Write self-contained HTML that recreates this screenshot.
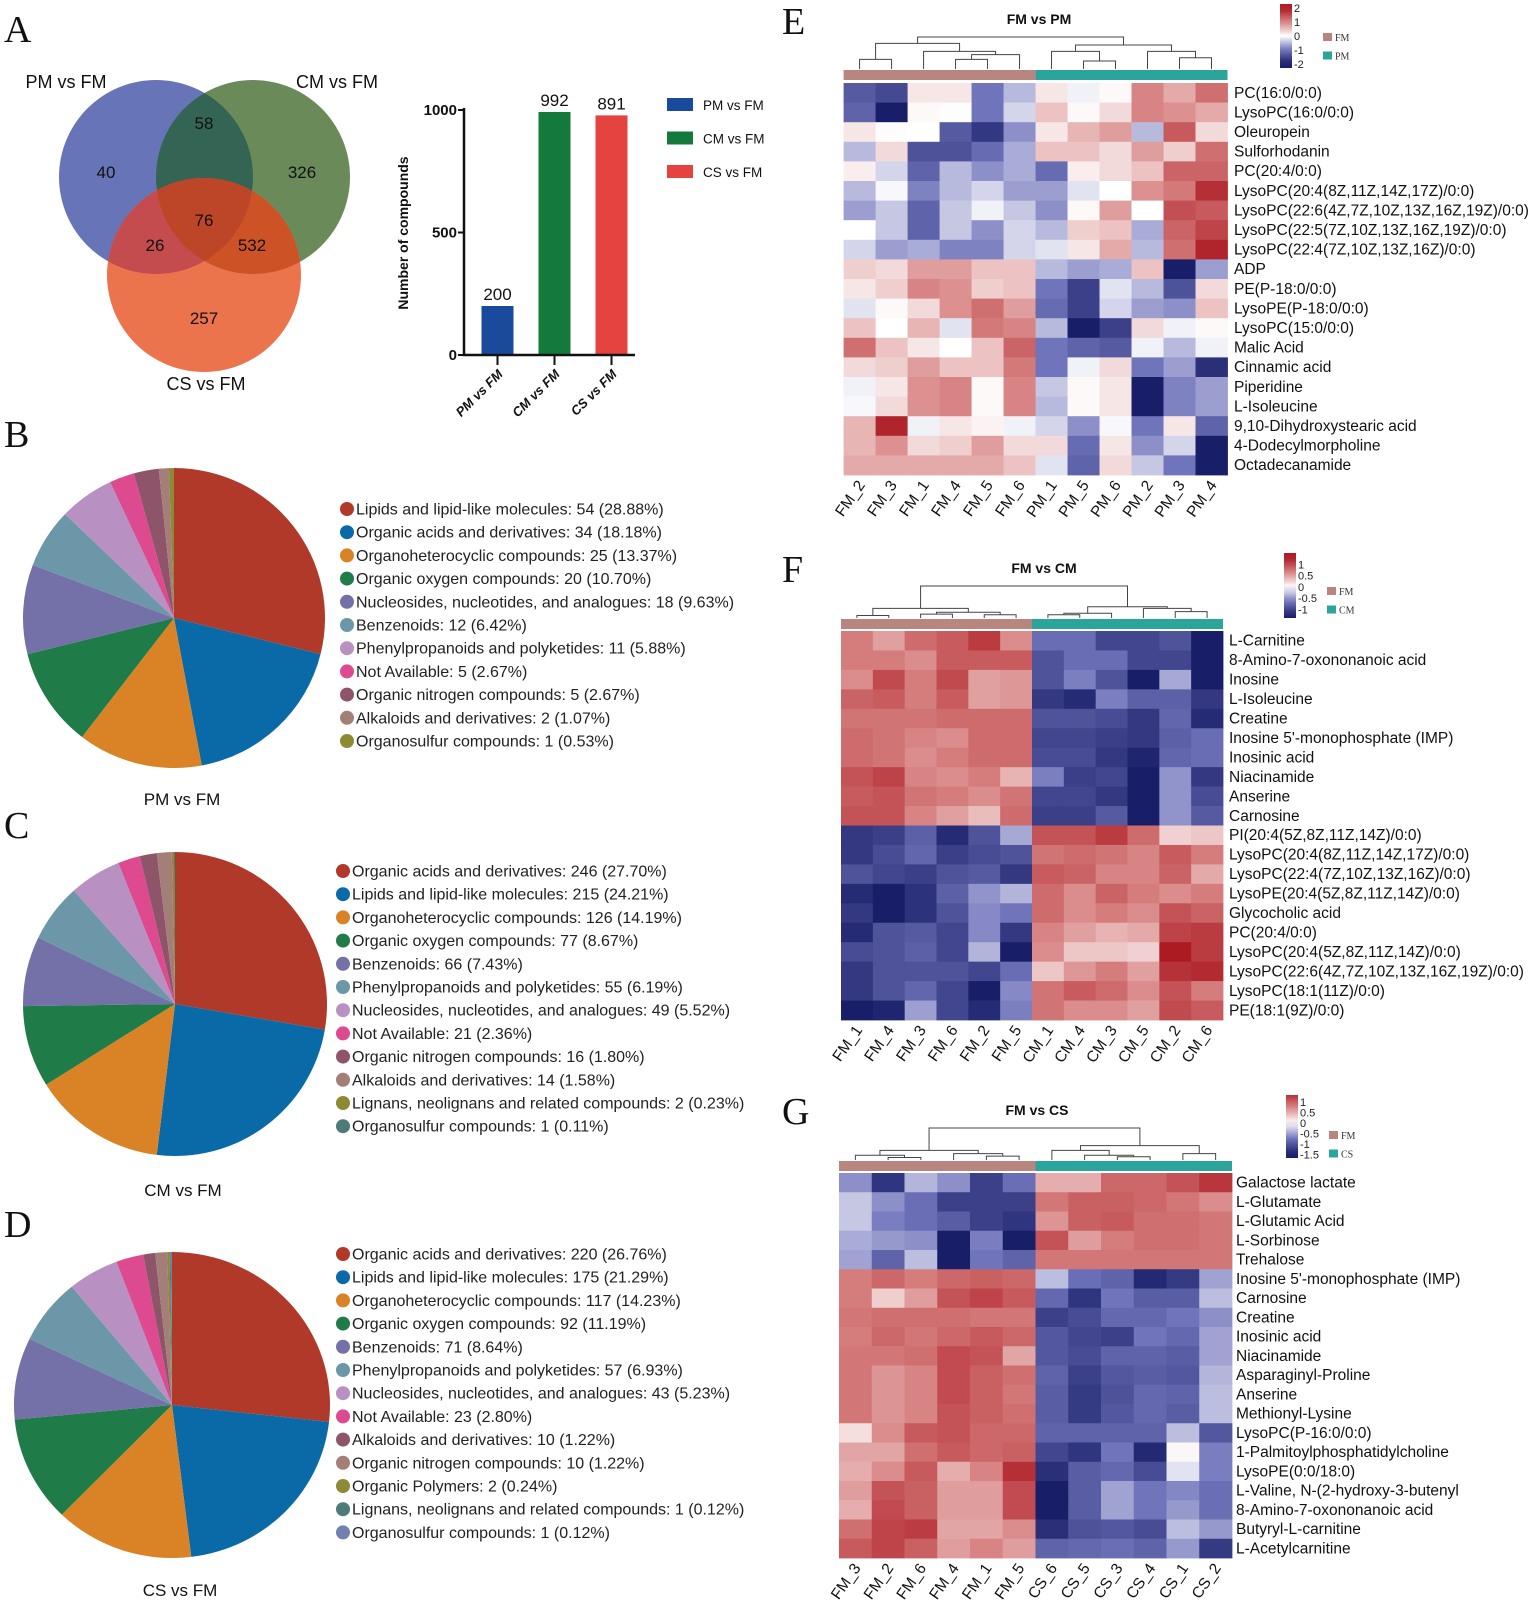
<!DOCTYPE html>
<html><head><meta charset="utf-8"><title>Metabolite comparison figure</title>
<style>
html,body{margin:0;padding:0;background:#fff;}
svg{display:block;font-family:"Liberation Sans",Arial,sans-serif;}
.serif{font-family:"Liberation Serif","Times New Roman",serif;}
</style></head>
<body>
<svg id="fig" xmlns="http://www.w3.org/2000/svg" width="1535" height="1613" viewBox="0 0 1535 1613">
<defs>
<clipPath id="cPM"><circle cx="156" cy="177" r="97"/></clipPath>
<clipPath id="cCM"><circle cx="253" cy="177" r="97"/></clipPath>
</defs>
<g class="serif" font-size="38" fill="#111">
<text x="4" y="42">A</text>
<text x="4" y="447">B</text>
<text x="4" y="838">C</text>
<text x="4" y="1237">D</text>
<text x="782" y="34">E</text>
<text x="782" y="582">F</text>
<text x="782" y="1124">G</text>
</g>
<g id="venn">
<circle cx="156" cy="177" r="97" fill="#6874b8"/>
<circle cx="253" cy="177" r="97" fill="#6b8a5a"/>
<circle cx="204" cy="275" r="97" fill="#ec744d"/>
<circle cx="253" cy="177" r="97" fill="#346453" clip-path="url(#cPM)"/>
<circle cx="204" cy="275" r="97" fill="#c44c4e" clip-path="url(#cPM)"/>
<circle cx="204" cy="275" r="97" fill="#cd5327" clip-path="url(#cCM)"/>
<g clip-path="url(#cPM)"><circle cx="204" cy="275" r="97" fill="#bd4528" clip-path="url(#cCM)"/></g>
<g font-size="18" fill="#111" text-anchor="middle">
<text x="66" y="88">PM vs FM</text>
<text x="337" y="88">CM vs FM</text>
<text x="206" y="390">CS vs FM</text>
</g>
<g font-size="17" fill="#111" text-anchor="middle">
<text x="204" y="129">58</text>
<text x="106" y="178">40</text>
<text x="302" y="178">326</text>
<text x="204" y="226">76</text>
<text x="155" y="251">26</text>
<text x="252" y="251">532</text>
<text x="204" y="324">257</text>
</g>
</g>
<g id="bar"></g>
<g id="pies"></g>
<g id="heats"></g>
</svg>
<script>
// ---------- Bar chart data ----------
const barCategories = ["PM vs FM", "CM vs FM", "CS vs FM"];
const barValues = [200, 992, 978];
const barValueLabels = ["200", "992", "891"];
const barColors = ["#1a4a9c", "#147a3c", "#e5433f"];
const barTicks = [0, 500, 1000];

// ---------- Pie data ----------
const pieBLabels = ["Lipids and lipid-like molecules","Organic acids and derivatives","Organoheterocyclic compounds","Organic oxygen compounds","Nucleosides, nucleotides, and analogues","Benzenoids","Phenylpropanoids and polyketides","Not Available","Organic nitrogen compounds","Alkaloids and derivatives","Organosulfur compounds"];
const pieBCounts = [54,34,25,20,18,12,11,5,5,2,1];
const pieCLabels = ["Organic acids and derivatives","Lipids and lipid-like molecules","Organoheterocyclic compounds","Organic oxygen compounds","Benzenoids","Phenylpropanoids and polyketides","Nucleosides, nucleotides, and analogues","Not Available","Organic nitrogen compounds","Alkaloids and derivatives","Lignans, neolignans and related compounds","Organosulfur compounds"];
const pieCCounts = [246,215,126,77,66,55,49,21,16,14,2,1];
const pieDLabels = ["Organic acids and derivatives","Lipids and lipid-like molecules","Organoheterocyclic compounds","Organic oxygen compounds","Benzenoids","Phenylpropanoids and polyketides","Nucleosides, nucleotides, and analogues","Not Available","Alkaloids and derivatives","Organic nitrogen compounds","Organic Polymers","Lignans, neolignans and related compounds","Organosulfur compounds"];
const pieDCounts = [220,175,117,92,71,57,43,23,10,10,2,1,1];
const pieColors = ["#b0392a","#0a6aa8","#d98326","#1f7b48","#7470a8","#6b97a8","#b990c2","#de4a90","#8e5469","#a37f78","#8c8a35","#4e7a78","#7080b0"];

// ---------- Heatmap E data ----------
const heatECols = ["FM_2","FM_3","FM_1","FM_4","FM_5","FM_6","PM_1","PM_5","PM_6","PM_2","PM_3","PM_4"];
const heatERows = ["PC(16:0/0:0)","LysoPC(16:0/0:0)","Oleuropein","Sulforhodanin","PC(20:4/0:0)","LysoPC(20:4(8Z,11Z,14Z,17Z)/0:0)","LysoPC(22:6(4Z,7Z,10Z,13Z,16Z,19Z)/0:0)","LysoPC(22:5(7Z,10Z,13Z,16Z,19Z)/0:0)","LysoPC(22:4(7Z,10Z,13Z,16Z)/0:0)","ADP","PE(P-18:0/0:0)","LysoPE(P-18:0/0:0)","LysoPC(15:0/0:0)","Malic Acid","Cinnamic acid","Piperidine","L-Isoleucine","9,10-Dihydroxystearic acid","4-Dodecylmorpholine","Octadecanamide"];
const heatEValues = [
[-1.3,-1.5,0.2,0.2,-1.0,-0.5,0.2,-0.1,0.05,1.0,0.7,1.2],
[-1.2,-2.1,0.05,0.02,-1.0,-0.3,0.5,0.05,0.3,1.0,0.9,0.7],
[0.2,0.02,0.0,-1.3,-1.7,-0.8,0.2,0.6,0.8,-0.5,1.4,0.3],
[-0.5,0.3,-1.4,-1.4,-1.1,-0.6,0.5,0.5,0.3,0.8,0.4,1.2],
[0.15,-0.3,-1.2,-0.5,-0.8,-0.6,-1.1,0.15,0.3,0.5,1.3,1.3],
[-0.5,-0.05,-0.9,-0.5,-0.3,-0.7,-0.7,-0.2,0.0,0.9,1.1,1.8],
[-0.7,-0.4,-1.2,-0.4,-0.1,-0.4,-0.8,0.05,0.8,0.0,1.5,1.4],
[0.0,-0.4,-1.2,-0.4,-0.8,-0.3,-0.5,0.4,0.5,-0.6,1.3,1.6],
[-0.3,-0.7,-0.6,-0.9,-0.9,-0.3,-0.2,0.2,0.7,-0.5,1.2,1.9],
[0.4,0.3,0.8,0.8,0.5,0.5,-0.5,-0.7,-0.6,0.5,-2.2,-0.7],
[0.2,0.4,1.0,0.9,0.4,0.5,-1.0,-1.6,-0.2,-0.5,-1.4,0.3],
[-0.2,0.05,0.3,0.9,1.2,0.8,-1.1,-1.6,-0.3,-0.7,-0.8,0.5],
[0.5,0.0,0.6,-0.2,1.1,1.0,-0.5,-2.0,-1.6,0.3,-0.1,0.05],
[1.2,0.5,0.2,0.0,0.5,1.3,-1.0,-1.2,-1.3,-0.1,-0.5,-0.1],
[0.3,0.4,0.8,0.5,0.5,1.1,-1.0,-0.1,0.3,-1.0,-0.7,-1.8],
[-0.1,0.2,0.9,1.0,0.05,1.0,-0.4,0.05,0.2,-2.3,-0.9,-0.7],
[-0.05,0.3,0.9,1.0,0.05,1.0,-0.5,0.05,0.2,-2.3,-0.9,-0.7],
[0.6,1.9,-0.1,0.2,0.1,-0.1,-0.3,-0.8,-0.05,-1.0,0.2,-1.2],
[0.6,0.9,0.3,0.4,0.8,0.3,0.3,-1.1,0.2,-0.8,-0.3,-2.3],
[0.7,0.7,0.7,0.7,0.7,0.5,-0.2,-1.2,0.3,-0.4,-1.0,-2.2]];
const heatETicks = [2,1,0,-1,-2];

// ---------- Heatmap F data ----------
const heatFCols = ["FM_1","FM_4","FM_3","FM_6","FM_2","FM_5","CM_1","CM_4","CM_3","CM_5","CM_2","CM_6"];
const heatFRows = ["L-Carnitine","8-Amino-7-oxononanoic acid","Inosine","L-Isoleucine","Creatine","Inosine 5'-monophosphate (IMP)","Inosinic acid","Niacinamide","Anserine","Carnosine","PI(20:4(5Z,8Z,11Z,14Z)/0:0)","LysoPC(20:4(8Z,11Z,14Z,17Z)/0:0)","LysoPC(22:4(7Z,10Z,13Z,16Z)/0:0)","LysoPE(20:4(5Z,8Z,11Z,14Z)/0:0)","Glycocholic acid","PC(20:4/0:0)","LysoPC(20:4(5Z,8Z,11Z,14Z)/0:0)","LysoPC(22:6(4Z,7Z,10Z,13Z,16Z,19Z)/0:0)","LysoPC(18:1(11Z)/0:0)","PE(18:1(9Z)/0:0)"];
const heatFValues = [
[.7,.5,.8,.9,1.1,.6,-.7,-.7,-1.0,-1.0,-.9,-1.3],
[.7,.7,.6,.9,.9,.9,-.9,-.7,-.7,-1.0,-1.0,-1.4],
[.6,1.0,.7,1.0,.5,.55,-.9,-.6,-.9,-1.4,-.4,-1.3],
[.85,.9,.7,.9,.5,.55,-1.1,-1.2,-.6,-.8,-.8,-1.1],
[.75,.75,.75,.8,.8,.8,-.9,-.9,-.95,-1.1,-.75,-1.2],
[.8,.75,.65,.6,.8,.8,-1.0,-1.0,-1.05,-1.1,-.8,-.7],
[.8,.75,.6,.7,.8,.8,-.95,-.95,-1.1,-1.25,-.75,-.7],
[.95,1.05,.65,.6,.7,.4,-.6,-1.05,-1.0,-1.35,-.5,-1.1],
[.9,.95,.75,.7,.6,.75,-1.0,-1.0,-1.1,-1.3,-.5,-.95],
[.95,.95,.65,.5,.35,.8,-1.05,-1.05,-.85,-1.3,-.5,-.85],
[-1.1,-1.05,-.8,-1.2,-.9,-.4,.95,.95,1.1,.8,.25,.3],
[-1.1,-.95,-.75,-1.05,-.95,-.9,.75,.8,.75,.65,.9,.7],
[-.9,-1.0,-1.05,-.9,-.85,-1.1,.9,.85,.65,.65,.85,.45],
[-1.2,-1.5,-1.15,-.8,-.5,-.35,.8,.6,.85,.7,.6,.7],
[-1.1,-1.35,-1.15,-.9,-.55,-.65,.8,.6,.7,.6,.95,.85],
[-1.2,-.9,-.85,-1.0,-.55,-1.1,.65,.5,.4,.45,1.05,1.1],
[-.95,-.9,-.8,-1.0,-.35,-1.35,.6,.3,.3,.25,1.3,1.1],
[-1.1,-.9,-.9,-.9,-1.0,-.7,.3,.55,.7,.5,1.15,1.2],
[-1.1,-.9,-.75,-1.0,-1.4,-.55,.75,.9,.8,.6,.95,.7],
[-1.3,-1.25,-.45,-1.0,-1.2,-.6,.75,.6,.6,.5,1.0,.9]];
const heatFTicks = [1,0.5,0,-0.5,-1];

// ---------- Heatmap G data ----------
const heatGCols = ["FM_3","FM_2","FM_6","FM_4","FM_1","FM_5","CS_6","CS_5","CS_3","CS_4","CS_1","CS_2"];
const heatGRows = ["Galactose lactate","L-Glutamate","L-Glutamic Acid","L-Sorbinose","Trehalose","Inosine 5'-monophosphate (IMP)","Carnosine","Creatine","Inosinic acid","Niacinamide","Asparaginyl-Proline","Anserine","Methionyl-Lysine","LysoPC(P-16:0/0:0)","1-Palmitoylphosphatidylcholine","LysoPE(0:0/18:0)","L-Valine, N-(2-hydroxy-3-butenyl","8-Amino-7-oxononanoic acid","Butyryl-L-carnitine","L-Acetylcarnitine"];
const heatGValues = [
[-.6,-1.3,-.4,-.6,-1.2,-.8,.5,.5,.95,.95,1.1,1.3],
[-.3,-.6,-.8,-1.2,-1.2,-1.2,.85,1.0,1.0,.95,.85,.7],
[-.3,-.7,-.8,-.95,-1.2,-1.3,.65,1.0,1.05,.9,.9,.85],
[-.45,-.55,-.6,-1.5,-.7,-1.6,1.1,.6,.8,.9,.9,.85],
[-.5,-.9,-.35,-1.9,-.75,-.9,.85,.85,.85,.85,.85,.85],
[.8,.95,.8,.95,1.0,.95,-.35,-.8,-.9,-1.4,-1.25,-.5],
[.8,.3,.6,1.1,1.2,1.05,-.85,-1.3,-.75,-.95,-.95,-.35],
[.85,.9,.9,.9,.85,.85,-1.2,-1.1,-.85,-.85,-.75,-.6],
[.8,.95,.85,.95,1.05,.95,-1.0,-1.15,-1.2,-.75,-.85,-.5],
[.85,.85,.9,1.15,1.1,.55,-1.0,-1.1,-.9,-.9,-.95,-.5],
[.85,.65,.75,1.15,1.0,.9,-.9,-1.2,-1.0,-.95,-1.0,-.4],
[.85,.65,.75,1.15,1.0,.85,-.95,-1.25,-1.05,-.85,-.9,-.35],
[.85,.65,.75,1.1,1.0,.9,-.95,-1.25,-1.0,-.85,-.95,-.35],
[.2,.7,1.05,1.1,.95,.95,-.9,-.9,-.9,-.9,-.35,-1.0],
[.55,.55,.9,1.05,.95,1.0,-1.15,-1.3,-.75,-1.4,.05,-.7],
[.5,.7,1.05,.5,.75,1.35,-1.35,-.95,-.85,-1.1,-.15,-.7],
[.6,1.1,1.0,.6,.6,1.15,-1.6,-.95,-.5,-.75,-.65,-.8],
[.5,1.15,1.0,.6,.6,1.15,-1.8,-.95,-.5,-.75,-.55,-.8],
[.9,1.2,1.25,.55,.55,.7,-1.35,-1.05,-1.0,-1.1,-.35,-.55],
[1.05,1.2,1.0,.6,.75,.6,-.9,-.85,-.8,-.9,-.55,-1.25]];
const heatGTicks = [1,0.5,0,-0.5,-1,-1.5];

// dendrogram structures: [left, right, height(0..1)] or leaf index
const treeE = [[[0,1,0.3],[2,[[3,4,0.3],5,0.45],0.55],0.8],[[6,[7,8,0.25],0.55],[9,[10,11,0.35],0.55],0.75],1.0];
const treeF = [[[0,1,0.08],[[2,3,0.12],[4,5,0.1],0.18],0.3],[[[6,7,0.1],8,0.15],[9,[10,11,0.2],0.3],0.35],1.0];
const treeG = [[[0,[1,2,0.08],0.15],[3,[4,5,0.12],0.2],0.3],[[6,[7,[8,9,0.1],0.15],0.3],[10,11,0.2],0.45],1.0];

const NS = "http://www.w3.org/2000/svg";
function mk(tag, parent){ const e = document.createElementNS(NS, tag); parent.appendChild(e); return e; }
function at(e, o){ for (const k in o) e.setAttribute(k, o[k]); return e; }

// ---------- Bar chart ----------
(function(){
  const g = document.getElementById('bar');
  const x0 = 464, xEnd = 635, y0 = 355, yTop = 110, vMax = 1000;
  const yS = v => y0 - (v / vMax) * (y0 - yTop);
  const band = (xEnd - x0) / barCategories.length;
  const bw = 32;
  const xC = i => x0 + band * (i + 0.5) + 5;
  barCategories.forEach((c, i) => {
    const r = mk('rect', g);
    at(r, {x: xC(i) - bw/2, y: yS(barValues[i]), width: bw, height: y0 - yS(barValues[i]), fill: barColors[i]});
    
    
    const t = mk('text', g);
    at(t, {x: xC(i), y: yS(barValues[i]) - 6, 'text-anchor': 'middle', 'font-size': 17, fill: '#111'});
    t.textContent = barValueLabels[i];
    
    
    const tk = mk('line', g);
    at(tk, {x1: xC(i), x2: xC(i), y1: y0, y2: y0 + 10, stroke: '#111', 'stroke-width': 2});
    
    
    const xl = mk('text', g);
    at(xl, {x: xC(i) + 6, y: y0 + 20, 'text-anchor': 'end', 'font-size': 13, 'font-weight': 'bold', 'font-style': 'italic', fill: '#111', transform: `rotate(-45 ${xC(i)+6} ${y0+20})`});
    xl.textContent = c;
    
    
  });
  const ax = mk('path', g);
  at(ax, {d: `M${x0} ${yTop-2} V${y0} H${xEnd}`, fill: 'none', stroke: '#111', 'stroke-width': 2.5});
  
  
  barTicks.forEach(v => {
    const l = mk('line', g);
    at(l, {x1: x0 - 6, x2: x0, y1: yS(v), y2: yS(v), stroke: '#111', 'stroke-width': 2});
    
    
    const t = mk('text', g);
    at(t, {x: x0 - 7, y: yS(v) + 5, 'text-anchor': 'end', 'font-size': 15, 'font-weight': 'bold', fill: '#111'});
    t.textContent = v;
    
    
  });
  const yt = mk('text', g);
  at(yt, {x: 408, y: 233, 'text-anchor': 'middle', 'font-size': 14, 'font-weight': 'bold', fill: '#111', transform: 'rotate(-90 408 233)'});
  yt.textContent = 'Number of compounds';
  
  
  barCategories.forEach((c, i) => {
    const s = mk('rect', g);
    at(s, {x: 667, y: 98 + i * 33.5, width: 26, height: 13, fill: barColors[i]});
    
    
    const t = mk('text', g);
    at(t, {x: 703, y: 110 + i * 33.5, 'font-size': 13.5, fill: '#111'});
    t.textContent = c;
    
    
  });
})();

// ---------- Pies ----------
function drawPie(name, labels, counts, cx, cy, rx, ry, legX, legY, caption, capY){
  const root = document.getElementById('pies');
  const g = mk('g', root);
  
  
  const total = counts.reduce((a,b)=>a+b, 0);
  let a0 = -Math.PI/2;
  counts.forEach((c, i) => {
    const a1 = a0 + c / total * Math.PI * 2;
    const large = (a1 - a0) > Math.PI ? 1 : 0;
    const p = mk('path', g);
    at(p, {d: `M${cx} ${cy} L${cx + rx*Math.cos(a0)} ${cy + ry*Math.sin(a0)} A${rx} ${ry} 0 ${large} 1 ${cx + rx*Math.cos(a1)} ${cy + ry*Math.sin(a1)} Z`, fill: pieColors[i]});
    
    
    a0 = a1;
    const d = mk('circle', g);
    at(d, {cx: legX, cy: legY + i * 23.2, r: 7, fill: pieColors[i]});
    
    
    const t = mk('text', g);
    at(t, {x: legX + 9, y: legY + i * 23.2 + 5.5, 'font-size': 16, fill: '#222'});
    t.textContent = `${labels[i]}: ${c} (${(c/total*100).toFixed(2)}%)`;
    
    
  });
  const cap = mk('text', g);
  at(cap, {x: cx + 8, y: capY, 'text-anchor': 'middle', 'font-size': 17, fill: '#111'});
  cap.textContent = caption;
  
  
}
drawPie('pie-pm-vs-fm', pieBLabels, pieBCounts, 174, 618, 151, 150, 347, 509, 'PM vs FM', 805);
drawPie('pie-cm-vs-fm', pieCLabels, pieCCounts, 175, 1004, 152, 152, 343, 871, 'CM vs FM', 1196);
drawPie('pie-cs-vs-fm', pieDLabels, pieDCounts, 172, 1405, 158, 153, 343, 1254, 'CS vs FM', 1596);

// ---------- Heatmaps ----------
function heatColor(v, M){
  let t = Math.max(-1, Math.min(1, v / M));
  const W = [255,255,255];
  let mid, end;
  if (t >= 0){ mid = [216,132,132]; end = [172,26,34]; }
  else { mid = [112,116,186]; end = [24,30,104]; t = -t; }
  let c;
  if (t < 0.5){ const u = t/0.5; c = W.map((w,k)=> w + (mid[k]-w)*u); }
  else { const u = (t-0.5)/0.5; c = mid.map((m,k)=> m + (end[k]-m)*u); }
  return `rgb(${c.map(Math.round).join(',')})`;
}
let gradId = 0;
function drawHeat(o){
  const root = document.getElementById('heats');
  const g = mk('g', root);
  
  
  const nR = o.rows.length, nC = o.cols.length;
  const cw = (o.x1 - o.x0) / nC, rh = (o.y1 - o.y0) / nR;
  const xS = j => o.x0 + j * cw;
  const yS = i => o.y0 + i * rh;
  o.values.forEach((row, i) => row.forEach((v, j) => {
    const r = mk('rect', g);
    at(r, {x: xS(j), y: yS(i), width: cw + 0.4, height: rh + 0.4, fill: heatColor(v, o.M)});
    
    
  }));
  o.rows.forEach((lab, i) => {
    const t = mk('text', g);
    at(t, {x: o.labX, y: yS(i) + rh/2 + 5, 'font-size': 15.5, fill: '#111'});
    t.textContent = lab;
    
    
  });
  o.cols.forEach((lab, j) => {
    const x = xS(j) + cw/2 + 6, y = o.y1 + 10;
    const t = mk('text', g);
    at(t, {x: x, y: y, 'text-anchor': 'end', 'font-size': 15.5, fill: '#111', transform: `rotate(-55 ${x} ${y})`});
    t.textContent = lab;
    
    
  });
  const half = nC / 2;
  const a1 = mk('rect', g);
  at(a1, {x: o.x0, y: o.annY, width: cw*half, height: o.annH, fill: '#b8857f'});
  
  
  const a2 = mk('rect', g);
  at(a2, {x: o.x0 + cw*half, y: o.annY, width: cw*half, height: o.annH, fill: '#2ba59c'});
  
  
  const dg = mk('g', g);
  
  
  const base = o.annY - 1, dh = o.annY - o.dTop;
  function walk(n){
    if (typeof n === 'number') return {x: xS(n) + cw/2, y: base};
    const A = walk(n[0]), B = walk(n[1]);
    const y = base - n[2] * dh;
    const p = mk('path', dg);
    at(p, {d: `M${A.x} ${A.y} V${y} H${B.x} V${B.y}`, fill: 'none', stroke: '#444', 'stroke-width': 1});
    
    
    return {x: (A.x + B.x)/2, y: y};
  }
  walk(o.tree);
  const ti = mk('text', g);
  at(ti, {x: o.titleX, y: o.titleY, 'text-anchor': 'middle', 'font-size': 14, 'font-weight': 'bold', fill: '#111'});
  ti.textContent = o.title;
  
  
  const svg = document.getElementById('fig');
  const defs = svg.querySelector('defs');
  const id = 'grad' + (gradId++);
  const lg = mk('linearGradient', defs);
  at(lg, {id: id, x1: 0, y1: 0, x2: 0, y2: 1});
  const top = o.cbV[0], bot = o.cbV[1];
  for (let s = 0; s <= 10; s++){
    const v = top + (bot - top) * s / 10;
    const st = mk('stop', lg);
    at(st, {offset: s/10, 'stop-color': heatColor(v, o.M)});
  }
  const cb = mk('rect', g);
  at(cb, {x: o.cbX, y: o.cbY0, width: 12, height: o.cbY1 - o.cbY0, fill: `url(#${id})`});
  
  
  const cbS = v => o.cbY0 + (top - v) / (top - bot) * (o.cbY1 - o.cbY0);
  o.ticks.forEach(v => {
    const t = mk('text', g);
    at(t, {x: o.cbX + 14, y: cbS(v) + 4, 'font-size': 11, fill: '#222'});
    t.textContent = v;
    
    
  });
  [['FM','#b8857f'],[o.group2,'#2ba59c']].forEach((d, k) => {
    const s = mk('rect', g);
    at(s, {x: o.cbX + 43, y: o.legY + k*18.5, width: 9, height: 8, fill: d[1]});
    
    
    const t = mk('text', g);
    at(t, {x: o.cbX + 55, y: o.legY + k*18.5 + 8, 'font-size': 10, fill: '#333', class: 'serif'});
    t.textContent = d[0];
    
    
  });
}
drawHeat({name:'heatmap-fm-vs-pm', rows: heatERows, cols: heatECols, values: heatEValues, ticks: heatETicks, tree: treeE,
  x0:843.6, x1:1227.5, y0:83, y1:475, labX:1234, annY:70, annH:10, dTop:38, M:2.0,
  title:'FM vs PM', titleX:1039, titleY:24, cbX:1280, cbY0:4, cbY1:68, cbV:[2.3,-2.3], legY:33, group2:'PM'});
drawHeat({name:'heatmap-fm-vs-cm', rows: heatFRows, cols: heatFCols, values: heatFValues, ticks: heatFTicks, tree: treeF,
  x0:841, x1:1223, y0:631, y1:1020, labX:1229, annY:619, annH:10, dTop:587, M:1.3,
  title:'FM vs CM', titleX:1044, titleY:573, cbX:1284, cbY0:553, cbY1:618, cbV:[1.5,-1.38], legY:587, group2:'CM'});
drawHeat({name:'heatmap-fm-vs-cs', rows: heatGRows, cols: heatGCols, values: heatGValues, ticks: heatGTicks, tree: treeG,
  x0:839, x1:1232, y0:1173, y1:1558, labX:1236, annY:1161, annH:10, dTop:1129, M:1.5,
  title:'FM vs CS', titleX:1037, titleY:1115, cbX:1286, cbY0:1095, cbY1:1158, cbV:[1.33,-1.67], legY:1131, group2:'CS'});
</script>
</body></html>
